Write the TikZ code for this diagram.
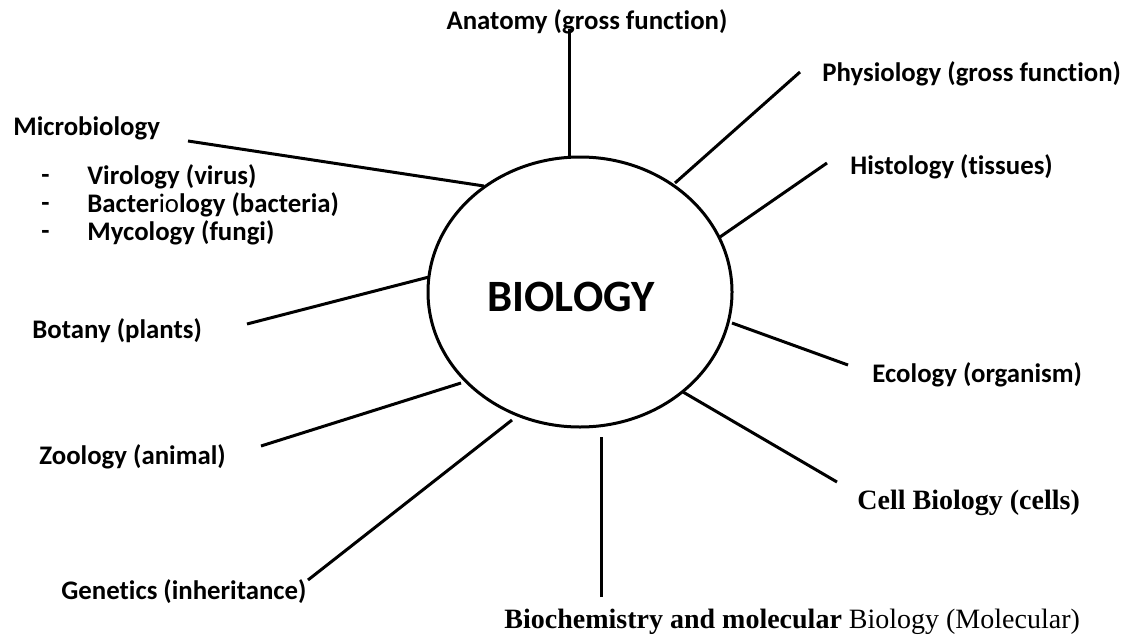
\documentclass[tikz,border=0pt]{standalone}
\usepackage{fontspec}
\usetikzlibrary{shapes.geometric}
\setmainfont{Carlito}[Ligatures={NoCommon}]
\newfontfamily\tnr{Liberation Serif}
\begin{document}
\begin{tikzpicture}[x=0.5pt,y=-0.5pt,
  lbl/.style={inner sep=0pt, anchor=west, font=\fontsize{13.4}{16}\selectfont\bfseries},
  tlbl/.style={inner sep=0pt, anchor=west, font=\fontsize{14}{16}\selectfont\tnr},
  spoke/.style={line width=1.5pt},
  hub/.style={draw, ellipse, line width=1.5pt, minimum width=152pt, minimum height=135pt, inner sep=0pt}]
\useasboundingbox (0,0) rectangle (1134,637);
\node[hub] (bio) at (580,292) {};
\node[inner sep=0pt, font=\fontsize{22.4}{26}\selectfont\bfseries] (biot) at (571,297) {BIOLOGY};

% labels
\node[lbl, anchor=center] (anat) at (587,22) {Anatomy (gross function)};
\node[lbl] (phys) at (822,74) {Physiology (gross function)};
\node[lbl] (hist) at (850,167) {Histology (tissues)};
\node[lbl] (micro) at (13,128) {Microbiology};
\node[lbl] (d1) at (41,177) {-\vphantom{Vy}};
\node[lbl] (viro) at (87,177) {Virology (virus)};
\node[lbl] (d2) at (41,205) {-\vphantom{Vy}};
\node[lbl] (bact) at (87,205) {Bacter{\mdseries io}logy (bacteria)};
\node[lbl] (d3) at (41,233) {-\vphantom{Vy}};
\node[lbl] (myco) at (87,233) {Mycology (fungi)};
\node[lbl] (bota) at (32,331) {Botany (plants)};
\node[lbl] (zool) at (39,457) {Zoology (animal)};
\node[lbl] (gene) at (61,592) {Genetics (inheritance)};
\node[lbl] (ecol) at (872,375) {Ecology (organism)};
\node[tlbl] (cell) at (857,503) {\bfseries Cell Biology (cells)};
\node[tlbl] (bioc) at (504,622) {\bfseries Biochemistry and molecular\mdseries{} Biology (Molecular)};

% spoke end points
\coordinate (anat-a) at (569,29);   \coordinate (anat-b) at (569,157);
\coordinate (phys-a) at (800,72);   \coordinate (phys-b) at (675,183);
\coordinate (hist-a) at (827,163);  \coordinate (hist-b) at (720,237);
\coordinate (micr-a) at (188,141);  \coordinate (micr-b) at (484,186);
\coordinate (bota-a) at (247,324);  \coordinate (bota-b) at (429,277);
\coordinate (zool-a) at (261,446);  \coordinate (zool-b) at (461,383);
\coordinate (gene-a) at (308,580);  \coordinate (gene-b) at (512,420);
\coordinate (bioc-a) at (601,597);  \coordinate (bioc-b) at (601,437);
\coordinate (ecol-a) at (848,365);  \coordinate (ecol-b) at (732,323);
\coordinate (cell-a) at (837,482);  \coordinate (cell-b) at (683,392);

\foreach \s in {anat,phys,hist,micr,bota,zool,gene,bioc,ecol,cell}
  \draw[spoke] (\s-a) -- (\s-b);
\end{tikzpicture}
\end{document}
